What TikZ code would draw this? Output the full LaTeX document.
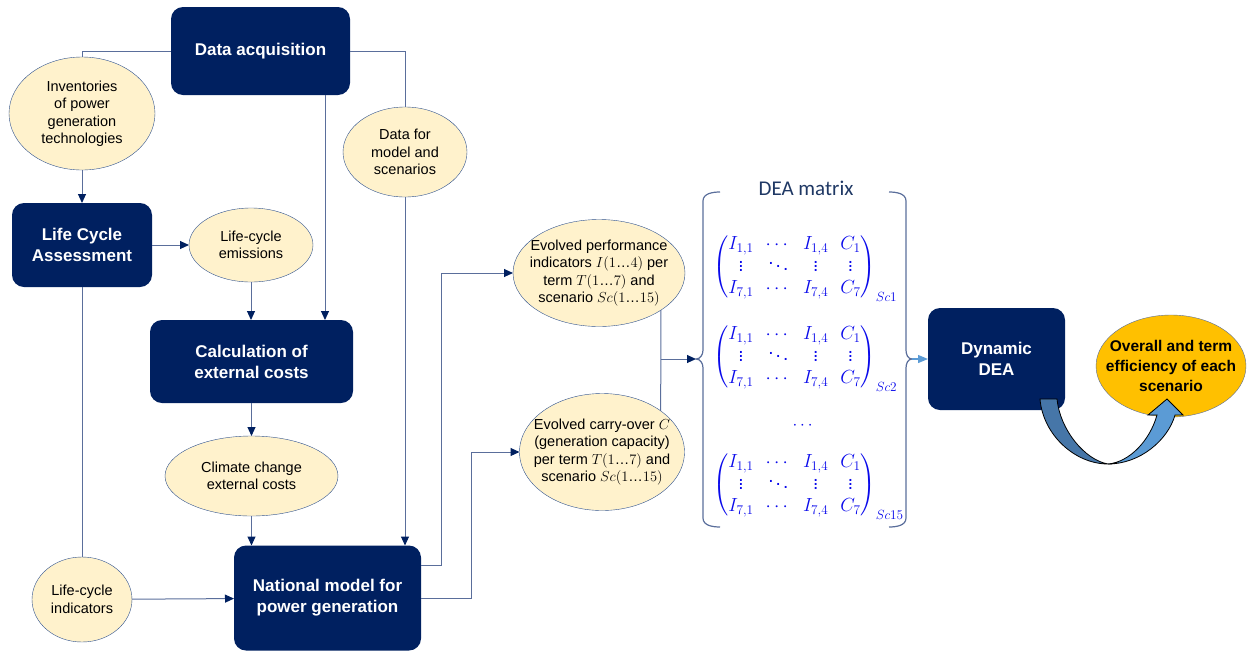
\RequirePackage{fix-cm}
\documentclass[tikz,border=0pt]{standalone}
\usepackage{amsmath}
\usepackage[no-math]{fontspec}
\setmainfont{Liberation Sans}
\newfontfamily\calibrifont{Carlito}
\usepackage{tikz}
\usetikzlibrary{positioning,arrows.meta}
\usetikzlibrary{shapes.geometric}
\definecolor{navybox}{RGB}{0,32,96}
\definecolor{cream}{RGB}{255,242,204}
\definecolor{edgeblue}{RGB}{47,82,143}
\definecolor{linkgray}{RGB}{90,110,155}
\definecolor{matblue}{RGB}{10,10,235}
\definecolor{gold}{RGB}{255,192,0}
\definecolor{steel}{RGB}{70,118,168}
\definecolor{skyblue}{RGB}{91,155,213}
\definecolor{titlenavy}{RGB}{31,56,100}
\tikzstyle{blk}=[fill=navybox, rounded corners=12pt, text=white, align=center, inner sep=0pt, outer sep=0pt, font=\bfseries\fontsize{17}{21}\selectfont]
\tikzstyle{elp}=[draw=edgeblue, fill=cream, ellipse, align=center, inner sep=-12pt, outer sep=0pt, font=\fontsize{14.5}{17.5}\selectfont]
\tikzstyle{link}=[draw=linkgray, line width=1pt, >={Triangle[length=9pt,width=8pt,color=navybox]}]
\tikzstyle{brc}=[draw=linkgray, line width=1.2pt]
\tikzstyle{matnode}=[inner sep=0pt, anchor=base west, text=matblue, font=\fontsize{19}{22}\selectfont]
\newcommand{\deamatrix}[1]{{\setlength\arraycolsep{6pt}$\begin{pmatrix} I_{1,1} & \cdots & I_{1,4} & C_1\\ \vdots & \ddots & \vdots & \vdots\\ I_{7,1} & \cdots & I_{7,4} & C_7 \end{pmatrix}_{#1}$}}
\newcommand{\upto}{\text{…}}

\begin{document}
\begin{tikzpicture}[x=1pt, y=-1pt]
	\useasboundingbox (0,0) rectangle (1247,651);
	\node[blk, minimum width=179pt, minimum height=88pt] (DataAcq) at (260.5,51) {Data acquisition};
	\node[blk, minimum width=140pt, minimum height=84pt] (LCA) at (82,245) {Life Cycle\\Assessment};
	\node[elp, minimum width=146pt, minimum height=113pt] (Inv) [above=33pt of LCA] {Inventories\\of power\\generation\\technologies};
	\node[elp, minimum width=124pt, minimum height=74pt] (Emis) [right=37pt of LCA] {Life-cycle\\emissions};
	\node[blk, minimum width=203pt, minimum height=83pt] (Calc) at (251.5,361.5) {Calculation of\\external costs};
	\node[elp, minimum width=173pt, minimum height=80pt] (Climate) [below=33pt of Calc] {Climate change\\external costs};
	\node[elp, minimum width=124pt, minimum height=90pt] (DataFor) at (405,152) {Data for\\model and\\scenarios};
	\node[blk, minimum width=187pt, minimum height=105pt] (Natl) at (327.5,598) {National model for\\power generation};
	\node[elp, minimum width=100pt, minimum height=85pt] (LCind) [below=270pt of LCA] {Life-cycle\\indicators};
	\node[elp, minimum width=172pt, minimum height=107pt] (EvPerf) at (599,273) {Evolved performance\\indicators $I(1\upto4)$ per\\term $T(1\upto7)$ and\\scenario $Sc(1\upto15)$};
	\node[elp, minimum width=165pt, minimum height=117pt] (EvCarry) [below=67pt of EvPerf, xshift=3pt] {Evolved carry-over $C$\\(generation capacity)\\per term $T(1\upto7)$ and\\scenario $Sc(1\upto15)$};
	\node[blk, minimum width=137pt, minimum height=102pt] (DynDEA) at (996.5,359) {Dynamic\\DEA};
	\node[elp, draw=linkgray, fill=gold, minimum width=150pt, minimum height=102pt, inner sep=-16pt, font=\bfseries\fontsize{15.5}{20}\selectfont] (Overall) at (1171,366) {Overall and term\\efficiency of each\\scenario};
	\node[font=\calibrifont\fontsize{21}{25}\selectfont, text=titlenavy] (DEAtitle) at (806,188) {DEA matrix};
	\node[matnode] (mat1) at (713,272) {\deamatrix{Sc1}};
	\node[matnode] (mat2) at (713,362) {\deamatrix{Sc2}};
	\node[matnode] (mat3) at (713,490) {\deamatrix{Sc15}};
	\node[text=matblue, font=\fontsize{17}{20}\selectfont] (matdots) at (804,426) {$\cdots$};
	\coordinate (lbtip) at (696,359);
	\coordinate (rbtip) at (912,359);

	\draw[link] (DataAcq.west) -| (Inv.north);
	\draw[link] (DataAcq.east) -| (DataFor.north);
	\draw[link] (Inv) edge[->] (LCA);
	\draw[link] (LCA) edge[->] (Emis);
	\draw[link,->] (Emis.south) -- (Emis.south |- Calc.north);
	\draw[link,->] ([xshift=-25pt]DataAcq.south east) -- ([xshift=-25pt]DataAcq.south east |- Calc.north);
	\draw[link,->] (DataFor.south) -- (DataFor.south |- Natl.north);
	\draw[link] (Calc) edge[->] (Climate);
	\draw[link,->] (Climate.south) -- (Climate.south |- Natl.north);
	\draw[link] (LCA) edge (LCind);
	\draw[link] (LCind) edge[->] (Natl);
	\draw[link,->] ([yshift=33pt]Natl.east) -- ++(20,0) |- (EvPerf.west);
	\draw[link,->] (Natl.east) -- ++(50,0) |- (EvCarry.west);
	\draw[link] (EvPerf.-31) -- (EvCarry.35);
	\draw[link,->] (EvPerf.-31 |- lbtip) -- (lbtip);

	\draw[brc] (720,192) to[out=180,in=90] (703,201) -- (703,350) to[out=-90,in=0] (lbtip) to[out=0,in=90] (703,368) -- (703,518) to[out=-90,in=180] (720,527);
	\draw[brc] (889,192) to[out=0,in=90] (906,201) -- (906,350) to[out=-90,in=180] (rbtip) to[out=180,in=90] (906,368) -- (906,518) to[out=-90,in=0] (889,527);
	\draw[draw=skyblue, line width=1.2pt, -{Triangle[length=10pt,width=8pt,color=skyblue]}] (rbtip) -- (DynDEA.west);

	\filldraw[fill=steel, draw=black, line width=0.8pt] (1040,399) .. controls (1043,435) and (1075,464) .. (1108,464) .. controls (1085,460) and (1060,430) .. (1057,399) -- cycle;
	\filldraw[fill=skyblue, draw=black, line width=0.8pt] (1108,464) .. controls (1140,464) and (1168,440) .. (1175,415) -- (1183,415) -- (1167,399) -- (1148,415) -- (1157,415) .. controls (1150,440) and (1130,462) .. (1108,464) -- cycle;
\end{tikzpicture}
\end{document}
